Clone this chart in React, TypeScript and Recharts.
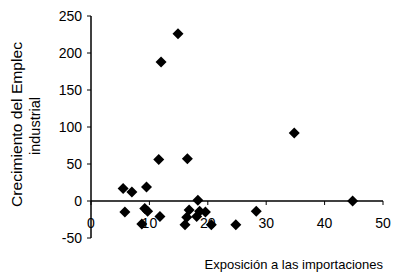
import React from "react";
import { ScatterChart, Scatter, XAxis, YAxis, ReferenceLine } from "recharts";

const exposicion = [5.5, 7.0, 9.5, 5.8, 9.2, 9.7, 8.7, 11.8, 11.6, 12.0, 14.9, 16.5, 18.3, 16.8, 16.4, 16.1, 18.6, 19.6, 18.1, 20.6, 24.8, 28.3, 34.8, 44.8];
const crecimiento = [17, 12, 19, -15, -10, -14, -31, -21, 56, 188, 226, 57, 1, -12, -22, -32, -14, -15, -21, -32, -32, -14, 92, 0];
const xTicks = [0, 10, 20, 30, 40, 50];
const yTicks = [-50, 0, 50, 100, 150, 200, 250];
const xTitle = "Exposición a las importaciones";
const yTitle1 = "Crecimiento del Emplec";
const yTitle2 = "industrial";

const data = exposicion.map((x, i) => ({ x, y: crecimiento[i] }));

const W = 393;
const H = 275;
const MARGIN = { top: 16, right: 10, bottom: 7, left: 41 };
const Y_AXIS_W = 50;
const X_AXIS_H = 30;
const Y_MIN = -50;
const Y_MAX = 250;
const PLOT_H = H - MARGIN.top - MARGIN.bottom - X_AXIS_H;
const Y0 = MARGIN.top + ((Y_MAX - 0) / (Y_MAX - Y_MIN)) * PLOT_H;

const FONT = "'Liberation Sans', Arial, sans-serif";

const Diamond = (props: any) => {
  const { cx, cy } = props;
  const r = 5.5;
  return (
    <polygon
      points={`${cx},${cy - r} ${cx + r},${cy} ${cx},${cy + r} ${cx - r},${cy}`}
      fill="#000"
    />
  );
};

const XTick = (props: any) => {
  const { x, payload } = props;
  return (
    <g>
      <line x1={x} x2={x} y1={Y0} y2={Y0 + 4} stroke="#000" strokeWidth={1} />
      <text x={x} y={Y0 + 27} textAnchor="middle" fontSize={14} fill="#000" fontFamily={FONT}>
        {payload.value}
      </text>
    </g>
  );
};

export default function App() {
  return (
    <div style={{ position: "absolute", left: 0, top: 0, width: W, height: H, background: "#fff" }}>
      <ScatterChart width={W} height={H} margin={MARGIN}>
        <XAxis
          type="number"
          dataKey="x"
          domain={[0, 50]}
          ticks={xTicks}
          axisLine={false}
          tickLine={false}
          height={X_AXIS_H}
          tick={<XTick />}
          interval={0}
        />
        <YAxis
          type="number"
          dataKey="y"
          domain={[Y_MIN, Y_MAX]}
          ticks={yTicks}
          width={Y_AXIS_W}
          axisLine={{ stroke: "#000", strokeWidth: 1.5 }}
          tickLine={{ stroke: "#000" }}
          tickSize={4}
          tickMargin={5}
          tick={{ fill: "#000", fontSize: 14, fontFamily: FONT }}
          interval={0}
        />
        <ReferenceLine y={0} stroke="#000" strokeWidth={1.5} />
        <Scatter data={data} fill="#000" shape={<Diamond />} isAnimationActive={false} />
      </ScatterChart>
      <svg
        width={W}
        height={H}
        style={{ position: "absolute", left: 0, top: 0, pointerEvents: "none" }}
      >
        <text
          x={383}
          y={269}
          textAnchor="end"
          fontSize={13}
          fontFamily={FONT}
          fill="#000"
        >
          {xTitle}
        </text>
        <text
          transform="translate(22,124.5) rotate(-90)"
          textAnchor="middle"
          fontSize={15}
          fontFamily={FONT}
          fill="#000"
          textLength={165}
          lengthAdjust="spacingAndGlyphs"
        >
          {yTitle1}
        </text>
        <text
          transform="translate(40,126) rotate(-90)"
          textAnchor="middle"
          fontSize={15}
          fontFamily={FONT}
          fill="#000"
          textLength={58}
          lengthAdjust="spacingAndGlyphs"
        >
          {yTitle2}
        </text>
      </svg>
    </div>
  );
}
